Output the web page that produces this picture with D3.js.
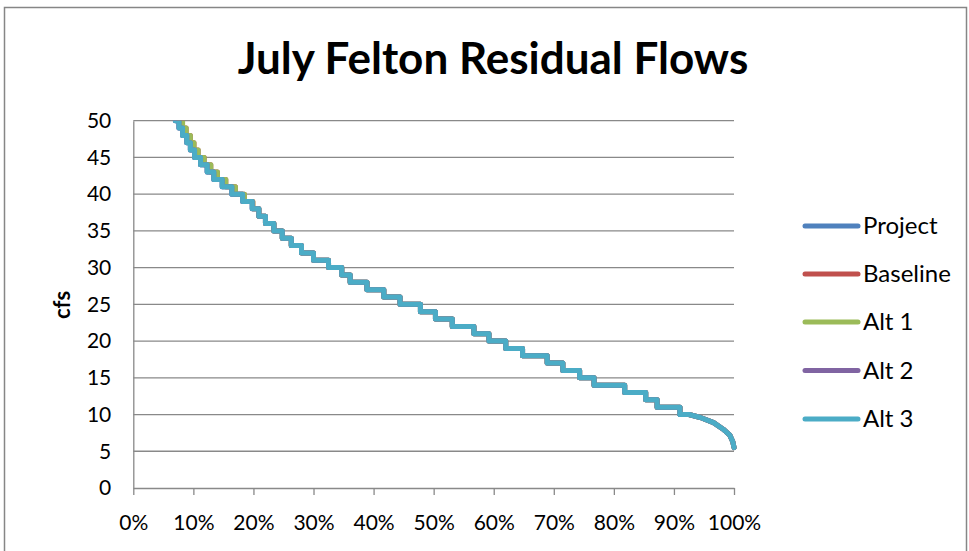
<!DOCTYPE html>
<html><head><meta charset="utf-8">
<script src="https://cdn.jsdelivr.net/npm/d3@7"></script>
<style>body{margin:0;background:#fff}svg{display:block}</style>
</head><body>
<svg id="chart" width="969" height="551"></svg>
<script>
// ---- data ----
const title = "July Felton Residual Flows";
const yLabel = "cfs";
const seriesNames = ["Project", "Baseline", "Alt 1", "Alt 2", "Alt 3"];
const seriesColors = ["#4F81BD", "#C0504D", "#9BBB59", "#8064A2", "#4BACC6"];
const yTicks = [0, 5, 10, 15, 20, 25, 30, 35, 40, 45, 50];
const xTicks = [0, 10, 20, 30, 40, 50, 60, 70, 80, 90, 100];

// stepped part: cfs levels and exceedance % at which each level begins
const stepCfs = [50, 49, 48, 47, 46, 45, 44, 43, 42, 41, 40, 39, 38, 37, 36, 35, 34, 33, 32, 31, 30,
                 29, 28, 27, 26, 25, 24, 23, 22, 21, 20, 19, 18, 17, 16, 15, 14, 13, 12, 11, 10];
const alt3StepPct = [7.0, 7.6, 8.2, 8.9, 9.5, 10.2, 11.2, 12.3, 13.4, 14.8, 16.4, 18.2, 19.8, 20.9, 22.0, 23.4, 24.8, 26.3, 28.0, 30.0, 32.5,
                     34.7, 36.1, 38.9, 41.7, 44.4, 47.8, 50.3, 53.1, 56.7, 59.2, 62.0, 64.8, 68.9, 71.5, 74.3, 76.7, 81.8, 85.3, 87.2, 91.0];
const alt1StepPct = [7.7, 8.2, 8.8, 9.5, 10.1, 10.8, 11.8, 12.9, 14.0, 15.4, 17.0, 18.5, 19.9, 20.9, 22.0, 23.4, 24.8, 26.3, 28.0, 30.0, 32.5,
                     34.7, 36.1, 38.9, 41.7, 44.4, 47.8, 50.3, 53.1, 56.7, 59.2, 62.0, 64.8, 68.9, 71.5, 74.3, 76.7, 81.8, 85.3, 87.2, 91.0];
const projectStepPct = alt3StepPct;
const baselineStepPct = alt1StepPct;
const alt2StepPct = alt3StepPct;
// smooth low-flow tail
const tailPct = [91.0, 92.5, 94.4, 96.6, 98.2, 99.3, 99.8, 100];
const tailCfs = [10.0, 10.0, 9.6, 8.9, 8.0, 7.2, 6.3, 5.5];

const seriesSteps = [projectStepPct, baselineStepPct, alt1StepPct, alt2StepPct, alt3StepPct];

// ---- layout ----
const svg = d3.select("#chart");
const plot = {left: 133.3, right: 734, top: 120.7, bottom: 488};
const x = d3.scaleLinear().domain([0, 100]).range([plot.left, plot.right]);
const y = d3.scaleLinear().domain([0, 50]).range([plot.bottom, plot.top]);
const gridColor = "#898989";
const font = "Lato, 'Open Sans', sans-serif";

// outer border
svg.append("rect").attr("x", 4.5).attr("y", 7.5).attr("width", 962).attr("height", 600)
  .attr("fill", "#fff").attr("stroke", "#868686").attr("stroke-width", 1.5);

// title
svg.append("text").attr("x", 493).attr("y", 74).attr("text-anchor", "middle")
  .attr("font-family", font).attr("font-weight", "bold").attr("font-size", 44)
  .attr("fill", "#000").text(title);

// gridlines
svg.append("g").selectAll("line").data(yTicks.filter(d => d > 0)).join("line")
  .attr("x1", plot.left).attr("x2", plot.right)
  .attr("y1", d => y(d)).attr("y2", d => y(d))
  .attr("stroke", gridColor).attr("stroke-width", 1.3);

// y axis
const yAxis = svg.append("g").attr("transform", `translate(${plot.left},0)`)
  .call(d3.axisLeft(y).tickValues(yTicks).tickSize(0).tickPadding(22).tickFormat(d3.format("d")));
yAxis.select(".domain").attr("stroke", gridColor).attr("stroke-width", 1.3);
yAxis.selectAll("text").attr("font-family", font).attr("font-size", 21).attr("fill", "#000");

// x axis
const xAxis = svg.append("g").attr("transform", `translate(0,${plot.bottom})`)
  .call(d3.axisBottom(x).tickValues(xTicks).tickSize(7).tickSizeOuter(0).tickPadding(20).tickFormat(d => d + "%"));
xAxis.select(".domain").attr("stroke", gridColor).attr("stroke-width", 1.3);
xAxis.selectAll(".tick line").attr("stroke", gridColor).attr("stroke-width", 1.3);
xAxis.selectAll("text").attr("font-family", font).attr("font-size", 21).attr("fill", "#000");

// y label
svg.append("text").attr("transform", "translate(70,305) rotate(-90)")
  .attr("text-anchor", "middle").attr("font-family", font).attr("font-weight", "bold")
  .attr("font-size", 22).attr("fill", "#000").text(yLabel);

// series
svg.append("clipPath").attr("id", "clip").append("rect")
  .attr("x", plot.left - 5).attr("y", plot.top).attr("width", plot.right - plot.left + 10).attr("height", plot.bottom - plot.top);
const gS = svg.append("g").attr("clip-path", "url(#clip)");
const stepLine = d3.line().x(d => x(d[0])).y(d => y(d[1])).curve(d3.curveStepAfter);
const tailLine = d3.line().x(d => x(d[0])).y(d => y(d[1]));
const tailPts = tailPct.map((p, i) => [p, tailCfs[i]]);
seriesSteps.forEach((pcts, si) => {
  const pts = pcts.map((p, i) => [p, stepCfs[i]]);
  const g = gS.append("g").attr("fill", "none").attr("stroke", seriesColors[si])
    .attr("stroke-width", 5).attr("stroke-linejoin", "round").attr("stroke-linecap", "round");
  g.append("path").attr("d", stepLine(pts));
  g.append("path").attr("d", tailLine(tailPts));
});

// legend
const legendY = [226, 274, 322, 370.5, 419];
const lg = svg.append("g");
seriesNames.forEach((name, i) => {
  lg.append("line").attr("x1", 805).attr("x2", 858).attr("y1", legendY[i]).attr("y2", legendY[i])
    .attr("stroke", seriesColors[i]).attr("stroke-width", 5).attr("stroke-linecap", "round");
  lg.append("text").attr("x", 863).attr("y", legendY[i] + 8).attr("font-family", font)
    .attr("font-size", 24).attr("fill", "#000").text(name);
});
</script>
</body></html>
